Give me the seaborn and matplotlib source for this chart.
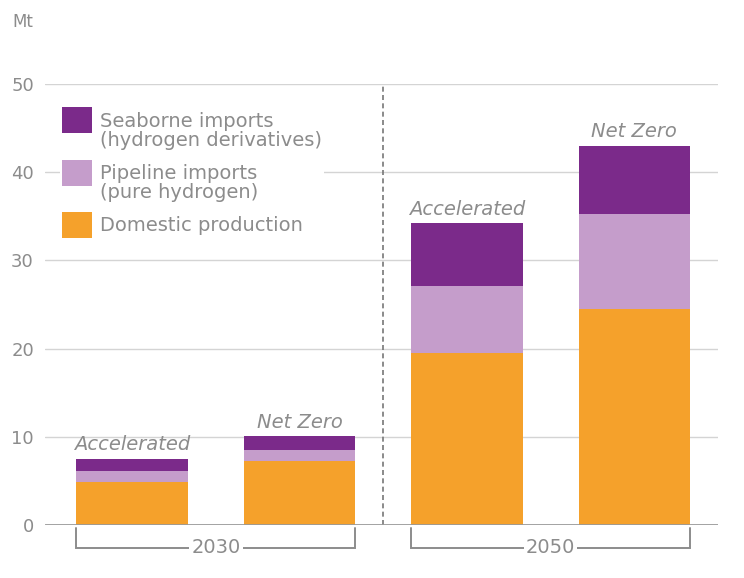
import matplotlib
matplotlib.use("Agg")
import matplotlib.pyplot as plt
from matplotlib.patches import Patch, Rectangle
from matplotlib.legend_handler import HandlerPatch
import seaborn as sns
import pandas as pd

# Hydrogen supply by scenario (Mt)
years = ["2030", "2030", "2050", "2050"]
scenarios = ["Accelerated", "Net Zero", "Accelerated", "Net Zero"]
domestic = [4.9, 7.2, 19.5, 24.5]
pipeline = [1.2, 1.3, 7.6, 10.8]
seaborne = [1.4, 1.6, 7.1, 7.7]

# every label is two lines tall so the legend rows share one pitch
series_labels = ["Seaborne imports\n(hydrogen derivatives)",
                 "Pipeline imports\n(pure hydrogen)",
                 "Domestic production\n"]
yticks = [0, 10, 20, 30, 40, 50]
year_groups = ["2030", "2050"]

C_SEA = "#7b2a8a"
C_PIPE = "#c59dcb"
C_DOM = "#f5a12b"
GREY = "#8c8c8c"

sns.set_theme(style="white")
plt.rcParams["font.family"] = ["DejaVu Sans"]

df = pd.DataFrame({
    "bar": [f"{y} {s}" for y, s in zip(years, scenarios)],
    "domestic": domestic,
    "pipeline": pipeline,
    "seaborne": seaborne,
})
df["upto_pipeline"] = df["domestic"] + df["pipeline"]
df["total"] = df["upto_pipeline"] + df["seaborne"]
order = list(df["bar"])

fig = plt.figure(figsize=(7.44, 5.78), dpi=100)
ax = fig.add_axes([45 / 744, 1 - 525 / 578, 673 / 744, 441 / 578])

bar_w = 0.665
# stacked bars: draw cumulative totals from the top layer down
for col, color in [("total", C_SEA), ("upto_pipeline", C_PIPE), ("domestic", C_DOM)]:
    sns.barplot(data=df, x="bar", y=col, order=order, color=color,
                width=bar_w, saturation=1, linewidth=0, ax=ax, zorder=3)

ax.set_xlim(-0.52, 3.5)
ax.set_ylim(0, 50)
ax.set_yticks(yticks)
ax.set_xticks([])
ax.set_xlabel("")
ax.set_ylabel("")
for s in ax.spines.values():
    s.set_visible(False)
ax.yaxis.grid(True, color="#d4d4d4", lw=1)
ax.set_axisbelow(True)
ax.tick_params(axis="y", length=0, pad=8, labelsize=13, labelcolor=GREY)
ax.axhline(0, color="#9a9a9a", lw=2, zorder=4)

# divider between the two years
ax.plot([1.5, 1.5], [0, 50], color="#777777", lw=1.2,
        linestyle=(0, (3, 2)), zorder=2, clip_on=False)

# scenario names above each bar
for i, (sc, tot) in enumerate(zip(scenarios, df["total"])):
    ax.text(i, tot + 0.5, sc, ha="center", va="bottom", style="italic",
            color=GREY, fontsize=14)

# year brackets under the bars
for g, yr in enumerate(year_groups):
    x0 = 2 * g - bar_w / 2
    x1 = 2 * g + 1 + bar_w / 2
    yb = -2.6
    ax.plot([x0, x0, x1, x1], [-0.3, yb, yb, -0.3], color=GREY, lw=1.4,
            clip_on=False, solid_joinstyle="miter")
    ax.text((x0 + x1) / 2, yb, yr, ha="center", va="center", color=GREY,
            fontsize=14, bbox=dict(fc="white", ec="none", pad=1.5))

fig.text(12 / 744, 1 - 22 / 578, "Mt", ha="left", va="center",
         color=GREY, fontsize=12)


def square_patch(legend, orig_handle, xdescent, ydescent, width, height, fontsize):
    # fixed-size swatch level with the first line of its label
    w, h = 21.6, 18.7
    cy = 0.92 * fontsize
    return Rectangle((-xdescent, cy - h / 2), w, h)


handles = [Patch(fc=C_SEA, ec="none"), Patch(fc=C_PIPE, ec="none"),
           Patch(fc=C_DOM, ec="none")]
leg = ax.legend(handles, series_labels, loc="upper left",
                bbox_to_anchor=(0.0221, 0.9413), frameon=True, facecolor="white",
                edgecolor="none", framealpha=1, fontsize=14, labelcolor=GREY,
                handlelength=1.55, handleheight=2.2, handletextpad=0.4,
                labelspacing=0.73, borderpad=0.1, borderaxespad=0,
                handler_map={Patch: HandlerPatch(patch_func=square_patch)})
for t in leg.get_texts():
    t.set_linespacing(1.0)

fig.savefig("out.png", dpi=100)
